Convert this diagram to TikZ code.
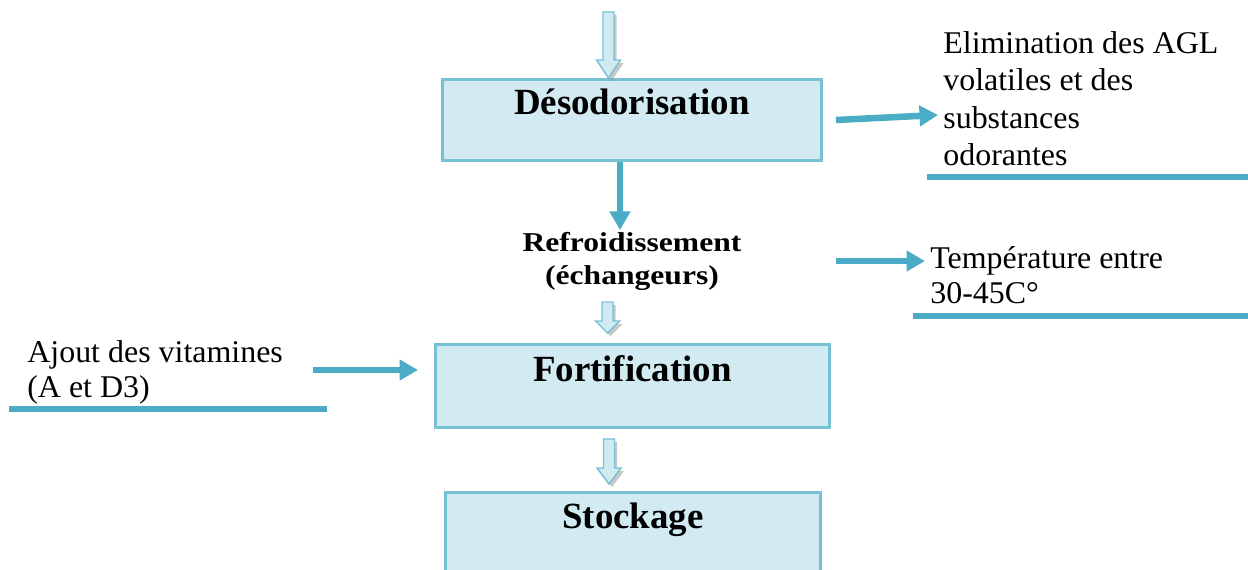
\documentclass[tikz,border=0pt]{standalone}
\usepackage{fontspec}
\setmainfont{Liberation Serif}
\newfontfamily\sidefont[FakeStretch=1.01]{Liberation Serif}
\newfontfamily\midfont[FakeStretch=1.16]{Liberation Serif}
\usetikzlibrary{arrows.meta,calc}
\definecolor{boxfill}{RGB}{210,235,242}
\definecolor{boxline}{RGB}{120,193,213}
\definecolor{flowblue}{RGB}{75,172,198}
\definecolor{hollowfill}{RGB}{208,234,242}
% block arrow: #1 top, #2 tip, #3 head length
\newcommand{\hollowarrow}[3]{%
  \fill[arrowshadow] ($(#1)+(8,3)$) -- ($(#2)+(8,3-#3)$) -- ($(#2)+(15,3-#3)$) -- ($(#2)+(3,3)$) -- ($(#2)+(-9,3-#3)$) -- ($(#2)+(-2.5,3-#3)$) -- ($(#1)+(-2.5,3)$) -- cycle;
  \filldraw[hollow] ($(#1)+(-5.5,0)$) -- ($(#2)+(-5.5,-#3)$) -- ($(#2)+(-12,-#3)$) -- (#2) -- ($(#2)+(12,-#3)$) -- ($(#2)+(5.5,-#3)$) -- ($(#1)+(5.5,0)$) -- cycle;}

\begin{document}
\begin{tikzpicture}[x=0.02cm,y=-0.02cm,
  stepbox/.style={draw=boxline,fill=boxfill,line width=0.06cm,inner sep=0pt,anchor=north west,font=\fontsize{21}{24}\selectfont\bfseries},
  sidetext/.style={anchor=north west,inner sep=0pt,align=left},
  flow/.style={draw=flowblue,line width=0.13cm,-{Triangle[length=0.37cm,width=0.4cm]}},
  rule/.style={draw=flowblue,line width=0.12cm},
  hollow/.style={draw=boxline,fill=hollowfill,line width=0.8pt},
  arrowshadow/.style={fill=black!40,opacity=.55}]
\useasboundingbox (0,0) rectangle (1248,569);
% main column
\node[stepbox,minimum width=7.58cm,text height=0.7cm,text depth=0.92cm] (deso) at (441,78) {Désodorisation};
\node[anchor=north,inner sep=0pt,align=center,font=\midfont\fontsize{15.5}{18.5}\selectfont\bfseries] (refroid) at (632,232) {Refroidissement\\(échangeurs)};
\node[stepbox,minimum width=7.88cm,text height=0.74cm,text depth=0.92cm] (fort) at (434,343) {Fortification};
\node[stepbox,minimum width=7.5cm,text height=0.72cm,text depth=1.46cm] (stock) at (444,491) {Stockage};
% side notes
\node[sidetext,font=\sidefont\fontsize{18}{21.3}\selectfont] (elim) at (943,31) {Elimination des AGL\\volatiles et des\\substances\\odorantes};
\node[sidetext,font=\sidefont\fontsize{18}{19.8}\selectfont] (temp) at (930,246) {Température entre\\30-45C°};
\node[sidetext,font=\sidefont\fontsize{18}{19.8}\selectfont] (ajout) at (27,340) {Ajout des vitamines\\(A et D3)};
% block arrows
\coordinate (feed) at (608.5,12);
\coordinate (t1) at (feed |- deso.north);
\hollowarrow{feed}{t1}{18}
\coordinate (h2) at (607.5,302);
\coordinate (t2) at ($(h2 |- fort.north)+(0,-10)$);
\hollowarrow{h2}{t2}{12}
\coordinate (h3) at ($(feed |- fort.south)+(0.5,10)$);
\coordinate (t3) at ($(feed |- stock.north)+(0.5,-7)$);
\hollowarrow{h3}{t3}{16}
% flow arrows
\coordinate (tp) at ($(temp.north west)+(0,15)$);
\coordinate (ap) at ($(ajout.north west)+(286,30)$);
\draw[flow] ($(deso.south)+(-12,0)$) -- ($(deso.south)+(-12,68)$);
\draw[flow] ($(deso.east)+(13,0)$) -- ($(elim.north west)+(-5,84)$);
\draw[flow,shorten <=0.26cm,shorten >=0.1cm] (deso.east |- tp) -- (tp);
\draw[flow,shorten >=0.32cm] (ap) -- (ap -| fort.west);
% underlines
\draw[rule] ($(elim.north west)+(-16,146)$) -- ++(325,0);
\draw[rule] ($(temp.north west)+(-17,70)$) -- ++(340,0);
\draw[rule] ($(ajout.north west)+(-18,69)$) -- ++(318,0);
\end{tikzpicture}
\end{document}
